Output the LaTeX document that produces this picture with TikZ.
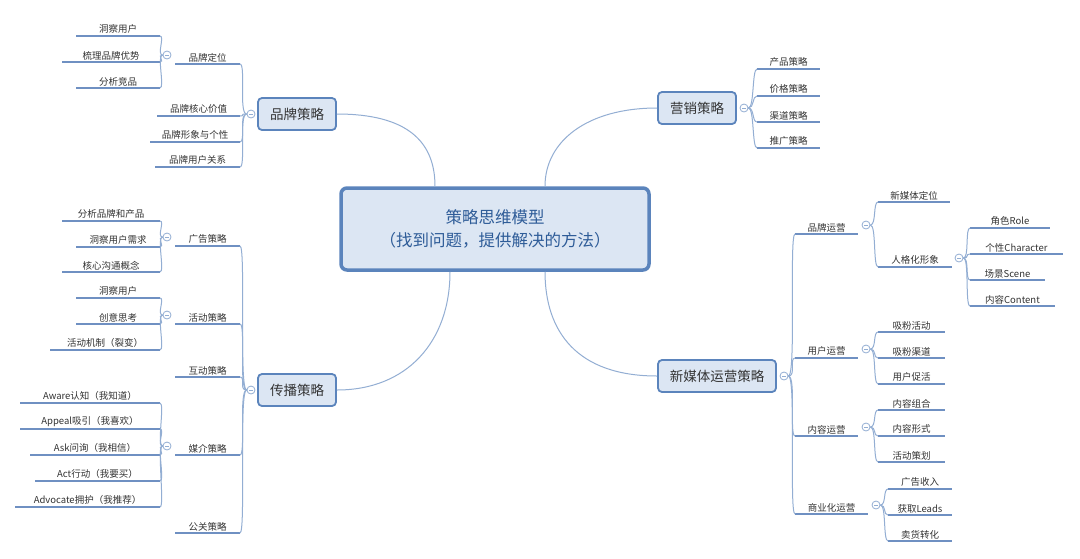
\documentclass[tikz,border=0pt]{standalone}
\usepackage{fontspec}
\setmainfont{Noto Sans CJK SC}
\usetikzlibrary{calc}
\definecolor{boxblue}{HTML}{5B84BC}
\definecolor{boxfill}{HTML}{DCE6F3}
\definecolor{lineblue}{HTML}{6F90C2}
\definecolor{linklight}{HTML}{93AED3}
\definecolor{txt}{HTML}{333333}
\definecolor{titleblue}{HTML}{2E5C98}

\tikzset{
  uline/.style={draw=lineblue,line width=2.2pt},
  link/.style={draw=linklight,line width=1pt},
  tlabel/.style={anchor=south,inner sep=2pt,text=txt,font=\fontsize{9.5}{11}\selectfont},
  fold/.style={circle,draw=linklight,fill=white,line width=0.8pt,minimum size=8pt,inner sep=0pt,
    path picture={\draw[linklight,line width=0.7pt] ($(path picture bounding box.center)+(-2pt,0)$) -- ($(path picture bounding box.center)+(2pt,0)$);}},
  topicbox/.style={draw=boxblue,line width=1.8pt,fill=boxfill,rounded corners=4pt,minimum height=32pt,
    minimum width=78pt,text=txt,font=\fontsize{13.5}{15}\selectfont}
}

% text on an underline: name, left x, right x, y, text
\newcommand\topicline[5]{%
  \draw[uline] (#2,#4) coordinate (#1-w) -- (#3,#4) coordinate (#1-e);
  \node[tlabel] (#1) at ({(#2+#3)/2},#4) {#5};}

\begin{document}
\begin{tikzpicture}[x=1pt,y=-1pt]
  \useasboundingbox[fill=white] (0,0) rectangle (1080,558);

  % Zentrum
  \node[draw=boxblue,line width=3.5pt,fill=boxfill,rounded corners=6pt,minimum width=308pt,
        minimum height=82pt,align=center,text=titleblue,font=\fontsize{16.5}{23}\selectfont]
        (root) at (495,229) {策略思维模型\\（找到问题，提供解决的方法）};

  % Hauptthemen
  \node[topicbox] (brand) at (297,114) {品牌策略};
  \node[topicbox] (spread) at (297,390) {传播策略};
  \node[topicbox] (mkt) at (697,108) {营销策略};
  \node[topicbox,minimum width=118pt] (media) at (717,376) {新媒体运营策略};

  \draw[link] ($(root.north)+(-60,0)$) .. controls +(0,-45) and +(70,0) .. (brand.east);
  \draw[link] ($(root.north)+(50,0)$) .. controls +(0,-45) and +(-70,0) .. (mkt.west);
  \draw[link] ($(root.south)+(-45,0)$) .. controls +(0,70) and +(70,0) .. (spread.east);
  \draw[link] ($(root.south)+(50,0)$) .. controls +(0,60) and +(-80,0) .. (media.west);

  \node[fold] (f-brand) at (251,114) {};
  \node[fold] (f-spread) at (251,390) {};
  \node[fold] (f-mkt) at (744,108) {};
  \node[fold] (f-media) at (784,376) {};

  % Markenstrategie
  \foreach \n/\a/\y/\t in {bpos/175/64/品牌定位, bcore/157/116/品牌核心价值,
                           bimg/150/142/品牌形象与个性, brel/155/167/品牌用户关系} {
    \topicline{\n}{\a}{240}{\y}{\t}
    \draw[link] (f-brand.west) .. controls +(-8,0) and +(6,0) .. (\n-e);
  }
  \node[fold] (f-bpos) at (167,55) {};
  \foreach \n/\a/\y/\t in {bpos1/76/36/洞察用户, bpos2/62/62/梳理品牌优势, bpos3/76/88/分析竞品} {
    \topicline{\n}{\a}{160}{\y}{\t}
    \draw[link] (f-bpos.west) .. controls +(-6,0) and +(5,0) .. (\n-e);
  }

  % Kommunikationsstrategie
  \foreach \n/\y/\t in {sad/246/广告策略, sact/324/活动策略, sint/377/互动策略,
                        smed/455/媒介策略, spr/533/公关策略} {
    \topicline{\n}{175}{240}{\y}{\t}
    \draw[link] (f-spread.west) .. controls +(-8,0) and +(6,0) .. (\n-e);
  }
  \node[fold] (f-sad) at (167,237) {};
  \node[fold] (f-sact) at (167,315) {};
  \node[fold] (f-smed) at (167,446) {};
  \foreach \n/\a/\y/\t in {sad1/62/221/分析品牌和产品, sad2/76/247/洞察用户需求, sad3/62/272/核心沟通概念} {
    \topicline{\n}{\a}{160}{\y}{\t}
    \draw[link] (f-sad.west) .. controls +(-6,0) and +(5,0) .. (\n-e);
  }
  \foreach \n/\a/\y/\t in {sact1/76/298/洞察用户, sact2/76/324/创意思考, sact3/50/350/活动机制（裂变）} {
    \topicline{\n}{\a}{160}{\y}{\t}
    \draw[link] (f-sact.west) .. controls +(-6,0) and +(5,0) .. (\n-e);
  }
  \foreach \n/\a/\y/\t in {smed1/20/403/Aware认知（我知道）, smed2/20/429/Appeal吸引（我喜欢）,
                           smed3/30/455/Ask问询（我相信）, smed4/35/481/Act行动（我要买）,
                           smed5/15/507/Advocate拥护（我推荐）} {
    \topicline{\n}{\a}{160}{\y}{\t}
    \draw[link] (f-smed.west) .. controls +(-6,0) and +(5,0) .. (\n-e);
  }

  % Marketingstrategie
  \foreach \n/\y/\t in {mprod/69/产品策略, mprice/96/价格策略, mchan/122/渠道策略, mprom/148/推广策略} {
    \topicline{\n}{757}{820}{\y}{\t}
    \draw[link] (f-mkt.east) .. controls +(6,0) and +(-5,0) .. (\n-w);
  }

  % Neue Medien
  \foreach \n/\b/\y/\t in {nbrand/858/234/品牌运营, nuser/858/358/用户运营,
                           ncont/858/436/内容运营, nbiz/868/514/商业化运营} {
    \topicline{\n}{795}{\b}{\y}{\t}
    \draw[link] (f-media.east) .. controls +(8,0) and +(-6,0) .. (\n-w);
  }
  \node[fold] (f-nbrand) at (866,225) {};
  \node[fold] (f-nuser) at (866,349) {};
  \node[fold] (f-ncont) at (866,427) {};
  \node[fold] (f-nbiz) at (876,505) {};
  \foreach \n/\b/\y/\t in {nb1/950/202/新媒体定位, nb2/952/267/人格化形象} {
    \topicline{\n}{878}{\b}{\y}{\t}
    \draw[link] (f-nbrand.east) .. controls +(6,0) and +(-5,0) .. (\n-w);
  }
  \node[fold] (f-nb2) at (959,258) {};
  \foreach \n/\b/\y/\t in {nc1/1050/228/角色Role, nc2/1063/254/个性Character,
                           nc3/1045/280/场景Scene, nc4/1055/306/内容Content} {
    \topicline{\n}{970}{\b}{\y}{\t}
    \draw[link] (f-nb2.east) .. controls +(6,0) and +(-5,0) .. (\n-w);
  }
  \foreach \n/\y/\t in {nu1/332/吸粉活动, nu2/358/吸粉渠道, nu3/384/用户促活} {
    \topicline{\n}{878}{945}{\y}{\t}
    \draw[link] (f-nuser.east) .. controls +(6,0) and +(-5,0) .. (\n-w);
  }
  \foreach \n/\y/\t in {nt1/410/内容组合, nt2/436/内容形式, nt3/462/活动策划} {
    \topicline{\n}{878}{945}{\y}{\t}
    \draw[link] (f-ncont.east) .. controls +(6,0) and +(-5,0) .. (\n-w);
  }
  \foreach \n/\y/\t in {nz1/489/广告收入, nz2/515/获取Leads, nz3/541/卖货转化} {
    \topicline{\n}{888}{952}{\y}{\t}
    \draw[link] (f-nbiz.east) .. controls +(6,0) and +(-5,0) .. (\n-w);
  }
\end{tikzpicture}
\end{document}
